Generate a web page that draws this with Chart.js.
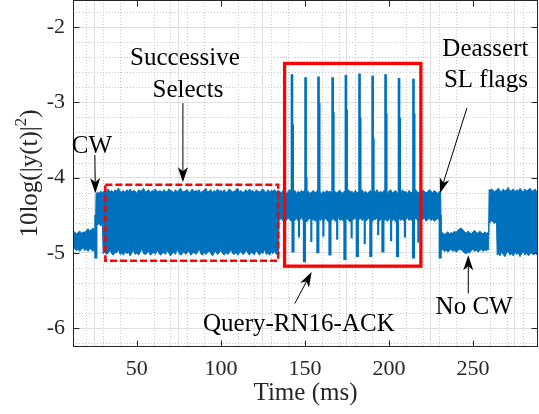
<!DOCTYPE html>
<html><head><meta charset="utf-8">
<script src="https://cdn.jsdelivr.net/npm/chart.js@4.4.1/dist/chart.umd.min.js"></script>
<style>html,body{margin:0;padding:0;background:#fff;}#wrap{width:539px;height:414px;}</style>
</head><body><div id="wrap"><canvas id="c" width="539" height="414"></canvas></div>
<script>
// ---------------- data ----------------
const xTickValues = [50, 100, 150, 200, 250];
const yTickValues = [-6, -5, -4, -3, -2];

// envelope of the received power trace (time in ms, upper / lower edge in dB)
const timeMs = [
  12,13,14,15,16,17,18,19,20,21,22,23,24,25,25.4,
  25.7,26.5,27.5,28.5,29.5,
  29.9,31,32,33,34,35,36,37,38,39,40,41,42,43,44,45,46,47,48,49,50,51,52,53,54,55,56,57,58,59,
  60,61,62,63,64,65,66,67,68,69,70,71,72,73,74,75,76,77,78,79,80,81,82,83,84,85,86,87,88,89,
  90,91,92,93,94,95,96,97,98,99,100,101,102,103,104,105,106,107,108,109,110,111,112,113,114,
  115,116,117,118,119,120,121,122,123,124,125,126,127,128,129,130,131,132,133,134,134.4,
  134.6,136,137,138,139,140,141,142,143,144,145,146,147,148,149,150,151,152,153,154,155,156,157,
  158,159,160,161,162,163,164,165,166,167,168,169,170,171,172,173,174,175,176,177,178,179,180,
  181,182,183,184,185,186,187,188,189,190,191,192,193,194,195,196,197,198,199,200,201,202,203,
  204,205,206,207,208,209,210,211,212,213,214,215,216,217,218,219,220,221,222,223,224,225,226,
  227,228,229,230,230.8,
  231.1,232,233,234,235,236,237,238,239,240,241,242,243,244,245,246,247,248,249,250,251,252,253,
  254,255,256,257,258,259,259.3,
  259.6,260,261,262,263,264,264.4,265,266,267,268,269,270,271,272,273,274,275,276,277,278,279,
  280,281,282,283,284,285,286,287,288,288.7
];
const upperDb = [
  -4.74,-4.72,-4.75,-4.73,-4.71,-4.74,-4.72,-4.73,-4.70,-4.68,-4.71,-4.69,-4.67,-4.71,-4.73,
  -4.22,-4.19,-4.21,-4.18,-4.20,
  -4.19,-4.17,-4.18,-4.15,-4.19,-4.17,-4.20,-4.16,-4.18,-4.14,
  -4.18,-4.19,-4.17,-4.20,-4.16,-4.18,-4.15,-4.19,-4.17,-4.18,
  -4.21,-4.16,-4.18,-4.17,-4.14,-4.19,-4.18,-4.16,-4.20,-4.17,
  -4.18,-4.15,-4.19,-4.18,-4.17,-4.20,-4.16,-4.18,-4.19,-4.15,
  -4.17,-4.18,-4.20,-4.16,-4.19,-4.17,-4.14,-4.18,-4.19,-4.17,
  -4.16,-4.20,-4.18,-4.15,-4.19,-4.17,-4.18,-4.16,-4.20,-4.18,
  -4.17,-4.14,-4.19,-4.18,-4.16,-4.20,-4.17,-4.19,-4.15,-4.18,
  -4.17,-4.19,-4.16,-4.20,-4.18,-4.15,-4.17,-4.19,-4.18,-4.16,
  -4.14,-4.19,-4.17,-4.20,-4.18,-4.16,-4.19,-4.15,-4.18,-4.17,
  -4.20,-4.16,-4.18,-4.19,-4.17,-4.15,-4.18,-4.20,-4.16,-4.19,
  -4.17,-4.18,-4.16,-4.19,-4.17,-4.18,
  -4.18,-4.20,-4.17,-4.19,-4.21,-4.18,-4.16,-4.20,-4.19,-4.17,
  -4.21,-4.18,-4.20,-4.17,-4.19,-4.16,-4.20,-4.18,-4.21,-4.19,
  -4.17,-4.20,-4.18,-4.16,-4.19,-4.21,-4.18,-4.20,-4.17,-4.19,
  -4.18,-4.21,-4.16,-4.19,-4.20,-4.18,-4.17,-4.21,-4.19,-4.18,
  -4.20,-4.16,-4.19,-4.18,-4.21,-4.17,-4.20,-4.19,-4.18,-4.16,
  -4.20,-4.18,-4.21,-4.19,-4.17,-4.20,-4.18,-4.19,-4.16,-4.21,
  -4.18,-4.20,-4.17,-4.19,-4.21,-4.18,-4.16,-4.20,-4.19,-4.17,
  -4.21,-4.18,-4.20,-4.16,-4.19,-4.18,-4.21,-4.17,-4.20,-4.19,
  -4.18,-4.16,-4.20,-4.19,-4.21,-4.17,-4.18,-4.20,-4.19,-4.16,
  -4.18,-4.20,-4.17,-4.19,-4.21,-4.18,-4.20,
  -4.75,-4.73,-4.76,-4.74,-4.72,-4.75,-4.73,-4.74,-4.71,-4.73,
  -4.70,-4.68,-4.67,-4.69,-4.72,-4.74,-4.71,-4.73,-4.75,-4.72,
  -4.70,-4.73,-4.74,-4.71,-4.73,-4.75,-4.72,-4.74,-4.73,-4.75,
  -4.16,-4.18,-4.15,-4.17,-4.19,-4.16,-4.18,-4.14,-4.17,-4.19,
  -4.15,-4.18,-4.16,-4.13,-4.18,-4.17,-4.15,-4.19,-4.16,-4.18,
  -4.14,-4.17,-4.19,-4.15,-4.18,-4.16,-4.14,-4.18,-4.17,-4.15,
  -4.19,-4.17
];
const lowerDb = [
  -4.96,-4.94,-4.97,-4.95,-4.98,-4.95,-4.93,-4.97,-4.95,-4.98,-4.94,-4.96,-4.98,-4.95,-4.96,
  -4.60,-4.63,-4.61,-4.64,-4.62,
  -5.01,-4.99,-5.02,-5.00,-4.96,-5.01,-5.03,-4.99,-5.00,-4.95,
  -5.02,-5.00,-5.03,-4.98,-5.01,-4.99,-5.04,-5.00,-4.97,-5.02,
  -5.00,-5.03,-4.99,-4.94,-5.01,-5.02,-5.00,-4.98,-5.03,-5.01,
  -4.99,-5.02,-4.96,-5.00,-5.03,-5.01,-4.99,-5.02,-4.97,-5.00,
  -5.04,-5.01,-4.99,-5.02,-4.95,-5.00,-5.03,-5.01,-4.98,-5.02,
  -5.00,-4.97,-5.03,-5.01,-4.99,-5.02,-5.00,-4.94,-5.01,-5.03,
  -4.99,-5.02,-5.00,-4.97,-5.01,-5.04,-5.00,-4.98,-5.02,-5.00,
  -4.96,-5.01,-5.03,-4.99,-5.02,-5.00,-4.95,-5.01,-5.02,-4.99,
  -5.03,-5.00,-4.98,-5.02,-5.01,-4.96,-5.00,-5.03,-4.99,-5.01,
  -5.02,-4.97,-5.00,-5.03,-4.99,-5.01,-4.95,-5.02,-5.00,-5.03,
  -4.99,-5.01,-4.98,-5.02,-5.00,-5.01,
  -4.57,-4.54,-4.58,-4.55,-4.57,-4.53,-4.56,-4.58,-4.55,-4.57,
  -4.54,-4.58,-4.56,-4.53,-4.57,-4.55,-4.59,-4.56,-4.54,-4.57,
  -4.55,-4.58,-4.56,-4.53,-4.57,-4.55,-4.58,-4.54,-4.56,-4.59,
  -4.55,-4.57,-4.54,-4.58,-4.56,-4.53,-4.57,-4.55,-4.58,-4.56,
  -4.54,-4.57,-4.59,-4.55,-4.56,-4.53,-4.58,-4.56,-4.54,-4.57,
  -4.55,-4.58,-4.56,-4.54,-4.57,-4.59,-4.55,-4.56,-4.53,-4.58,
  -4.56,-4.54,-4.57,-4.55,-4.58,-4.56,-4.53,-4.57,-4.55,-4.59,
  -4.56,-4.54,-4.57,-4.55,-4.58,-4.56,-4.53,-4.57,-4.55,-4.58,
  -4.56,-4.54,-4.57,-4.59,-4.55,-4.56,-4.53,-4.58,-4.56,-4.54,
  -4.57,-4.55,-4.58,-4.56,-4.54,-4.57,-4.55,
  -4.97,-4.95,-4.98,-4.96,-4.99,-4.97,-4.95,-4.98,-4.96,-4.99,
  -4.97,-4.95,-4.96,-4.98,-5.00,-5.01,-4.99,-5.00,-4.97,-4.95,
  -4.98,-4.96,-4.99,-4.97,-4.95,-4.98,-4.96,-4.97,-4.95,-4.96,
  -4.58,-4.60,-4.57,-4.59,-4.61,-4.58,-5.03,-5.00,-5.04,-4.99,
  -5.02,-5.05,-5.00,-4.98,-5.03,-5.01,-5.04,-4.99,-5.02,-5.00,
  -5.05,-5.01,-4.98,-5.03,-5.00,-5.04,-5.01,-4.99,-5.03,-5.00,
  -5.02,-5.01
];

// Query-RN16-ACK upward bursts
const spikeTimeMs     = [142.3,150.4,158.1,166.5,174.4,182.5,190.3,198.0,206.0,214.6];
const spikePeakDb     = [-2.63,-2.67,-2.66,-2.67,-2.64,-2.62,-2.65,-2.63,-2.68,-2.69];
const spikeShoulderDb = [-3.30,-4.00,-3.01,-3.13,-3.10,-3.21,-3.48,-3.15,-3.21,-3.15];
// downward dips of the trace
const dipTimeMs = [25.6,142.9,149.7,157.7,164.9,173.8,181.2,189.2,196.4,205.1,214.6,230.5];
const dipLowDb  = [-5.07,-4.99,-5.12,-5.00,-5.03,-5.09,-5.05,-5.05,-4.99,-5.05,-5.07,-5.07];
const minorDipTimeMs = [146.5,153.8,161.0,169.2,177.8,185.6,193.6,201.3,209.5,217.5];
const minorDipLowDb  = [-4.79,-4.85,-4.78,-4.82,-4.80,-4.88,-4.76,-4.84,-4.79,-4.86];

// ---------------- styling ----------------
const BLUE = '#0072BD';
const SERIF = '"Liberation Serif"';
const AXIS = '#262626';

const annotations = {
  texts: [
    {t: 23.3,  v: -3.678, s: 'CW'},
    {t: 78.6,  v: -2.505, s: 'Successive'},
    {t: 80.4,  v: -2.924, s: 'Selects'},
    {t: 257.4, v: -2.385, s: 'Deassert'},
    {t: 257.7, v: -2.801, s: 'SL flags'},
    {t: 146.4, v: -6.040, s: 'Query-RN16-ACK'},
    {t: 250.7, v: -5.805, s: 'No CW'}
  ],
  arrows: [
    {t1: 25.0,  v1: -3.70, t2: 25.3,  v2: -4.206},
    {t1: 77.4,  v1: -3.01, t2: 77.4,  v2: -4.06},
    {t1: 246.4, v1: -3.076,t2: 230.4, v2: -4.206},
    {t1: 144.0, v1: -5.672,t2: 154.0, v2: -5.252},
    {t1: 247.2, v1: -5.539,t2: 247.2, v2: -5.03}
  ],
  dashedBox: {t1: 31.25, t2: 134.1, v1: -4.093, v2: -5.103},
  solidBox:  {t1: 137.9, t2: 219.0, v1: -2.483, v2: -5.176}
};

function drawArrow(ctx, x1, y1, x2, y2) {
  const a = Math.atan2(y2 - y1, x2 - x1), c = Math.cos(a), s = Math.sin(a);
  const L = 15, W = 5, N = 4;
  ctx.beginPath(); ctx.moveTo(x1, y1); ctx.lineTo(x2 - c * (L - N), y2 - s * (L - N)); ctx.stroke();
  ctx.beginPath();
  ctx.moveTo(x2, y2);
  ctx.lineTo(x2 - c * L - s * W, y2 - s * L + c * W);
  ctx.lineTo(x2 - c * (L - N), y2 - s * (L - N));
  ctx.lineTo(x2 - c * L + s * W, y2 - s * L - c * W);
  ctx.closePath(); ctx.fill();
}

const overlay = {
  id: 'overlay',
  beforeDatasetsDraw(chart) {
    const {ctx, chartArea: A, scales: {x, y}} = chart;
    ctx.save();
    ctx.strokeStyle = '#c8c8c8'; ctx.lineWidth = 1; ctx.setLineDash([1, 2]);
    for (let k = 2; k <= 28; k++) {
      if (k % 5 === 0) continue;
      const px = Math.round(x.getPixelForValue(k * 10)) + 0.5;
      if (px <= A.left || px >= A.right) continue;
      ctx.beginPath(); ctx.moveTo(px, A.top); ctx.lineTo(px, A.bottom); ctx.stroke();
    }
    for (let k = -31; k <= -9; k++) {
      if (k % 5 === 0) continue;
      const py = Math.round(y.getPixelForValue(k * 0.2)) + 0.5;
      if (py <= A.top || py >= A.bottom) continue;
      ctx.beginPath(); ctx.moveTo(A.left, py); ctx.lineTo(A.right, py); ctx.stroke();
    }
    ctx.restore();
  },
  afterDatasetsDraw(chart) {
    const {ctx, chartArea: A, scales: {x, y}} = chart;
    const X = v => x.getPixelForValue(v), Y = v => y.getPixelForValue(v);
    ctx.save();
    ctx.strokeStyle = '#ff0000';
    const d = annotations.dashedBox;
    ctx.lineWidth = 2.5; ctx.setLineDash([7, 3]);
    ctx.strokeRect(X(d.t1), Y(d.v1), X(d.t2) - X(d.t1), Y(d.v2) - Y(d.v1));
    const b = annotations.solidBox;
    ctx.lineWidth = 3.3; ctx.setLineDash([]);
    ctx.strokeRect(X(b.t1), Y(b.v1), X(b.t2) - X(b.t1), Y(b.v2) - Y(b.v1));
    ctx.strokeStyle = AXIS; ctx.lineWidth = 1;
    const l = Math.round(A.left) + 0.5, r = Math.round(A.right) - 0.5;
    const t = Math.round(A.top) + 0.5, bt = Math.round(A.bottom) - 0.5;
    ctx.strokeRect(l, t, r - l, bt - t);
    const TL = 6;
    ctx.beginPath();
    xTickValues.forEach(v => {
      const px = Math.round(X(v)) + 0.5;
      ctx.moveTo(px, bt); ctx.lineTo(px, bt - TL);
      ctx.moveTo(px, t); ctx.lineTo(px, t + TL);
    });
    yTickValues.forEach(v => {
      const py = Math.round(Y(v)) + 0.5;
      ctx.moveTo(l, py); ctx.lineTo(l + TL, py);
      ctx.moveTo(r, py); ctx.lineTo(r - TL, py);
    });
    ctx.stroke();
    ctx.restore();

    ctx.save();
    ctx.strokeStyle = '#000'; ctx.fillStyle = '#000'; ctx.lineWidth = 1;
    annotations.arrows.forEach(a => drawArrow(ctx, X(a.t1), Y(a.v1), X(a.t2), Y(a.v2)));
    ctx.font = '25px ' + SERIF; ctx.textAlign = 'center'; ctx.textBaseline = 'alphabetic';
    annotations.texts.forEach(o => ctx.fillText(o.s, X(o.t), Y(o.v)));
    ctx.restore();

    // y-axis label with a real superscript
    ctx.save();
    ctx.fillStyle = AXIS; ctx.textBaseline = 'alphabetic'; ctx.textAlign = 'left';
    const main = '10log(|y(t)|', sup = '2', tail = ')';
    ctx.font = '25px ' + SERIF;
    const w1 = ctx.measureText(main).width, w3 = ctx.measureText(tail).width;
    ctx.font = '17px ' + SERIF;
    const w2 = ctx.measureText(sup).width;
    const W = w1 + w2 + w3;
    ctx.translate(37, (A.top + A.bottom) / 2);
    ctx.rotate(-Math.PI / 2);
    ctx.font = '25px ' + SERIF;
    ctx.fillText(main, -W / 2, 0);
    ctx.fillText(tail, -W / 2 + w1 + w2, 0);
    ctx.font = '17px ' + SERIF;
    ctx.fillText(sup, -W / 2 + w1, -11);
    ctx.restore();
  }
};

const bandUpper = timeMs.map((t, i) => ({x: t, y: upperDb[i]}));
const bandLower = timeMs.map((t, i) => ({x: t, y: lowerDb[i]}));

new Chart(document.getElementById('c'), {
  type: 'line',
  data: {
    datasets: [
      {type: 'line', data: bandUpper, borderColor: BLUE, backgroundColor: BLUE, borderWidth: 1,
       pointRadius: 0, tension: 0, fill: '+1'},
      {type: 'line', data: bandLower, borderColor: BLUE, backgroundColor: BLUE, borderWidth: 1,
       pointRadius: 0, tension: 0, fill: false},
      {type: 'bar', data: spikeTimeMs.map((t, i) => ({x: t, y: [-4.3, spikePeakDb[i]]})),
       backgroundColor: BLUE, barThickness: 2, grouped: false, borderWidth: 0},
      {type: 'bar', data: spikeTimeMs.map((t, i) => ({x: t + 0.7, y: [-4.3, spikeShoulderDb[i]]})),
       backgroundColor: BLUE, barThickness: 1, grouped: false, borderWidth: 0},
      {type: 'bar', data: dipTimeMs.map((t, i) => ({x: t, y: [-4.5, dipLowDb[i]]})),
       backgroundColor: BLUE, barThickness: 2.5, grouped: false, borderWidth: 0},
      {type: 'bar', data: minorDipTimeMs.map((t, i) => ({x: t, y: [-4.5, minorDipLowDb[i]]})),
       backgroundColor: BLUE, barThickness: 1.5, grouped: false, borderWidth: 0}
    ]
  },
  options: {
    responsive: false, animation: false, devicePixelRatio: 1,
    layout: {padding: {left: 0, right: 1, top: 0, bottom: 0}},
    plugins: {legend: {display: false}, tooltip: {enabled: false}},
    scales: {
      x: {
        type: 'linear', min: 12, max: 288.7, offset: false,
        afterBuildTicks: s => { s.ticks = xTickValues.map(v => ({value: v})); },
        afterFit: s => { s.height = 67; s.paddingLeft = 0; s.paddingRight = 0; },
        grid: {color: '#dfdfdf', lineWidth: 1, drawTicks: false},
        border: {display: false},
        ticks: {font: {family: SERIF, size: 22}, color: AXIS, padding: 9, maxRotation: 0,
                autoSkip: false, callback: v => String(v)},
        title: {display: true, text: 'Time (ms)', font: {family: SERIF, size: 25}, color: AXIS,
                padding: {top: 0, bottom: 6}}
      },
      y: {
        type: 'linear', min: -6.25, max: -1.64,
        afterBuildTicks: s => { s.ticks = yTickValues.map(v => ({value: v})); },
        afterFit: s => { s.width = 73; s.paddingTop = 0; s.paddingBottom = 0; },
        grid: {color: '#dfdfdf', lineWidth: 1, drawTicks: false},
        border: {display: false},
        ticks: {font: {family: SERIF, size: 22}, color: AXIS, padding: 8, autoSkip: false,
                callback: v => String(v)},
        title: {display: false}
      }
    }
  },
  plugins: [overlay]
});
</script></body></html>
